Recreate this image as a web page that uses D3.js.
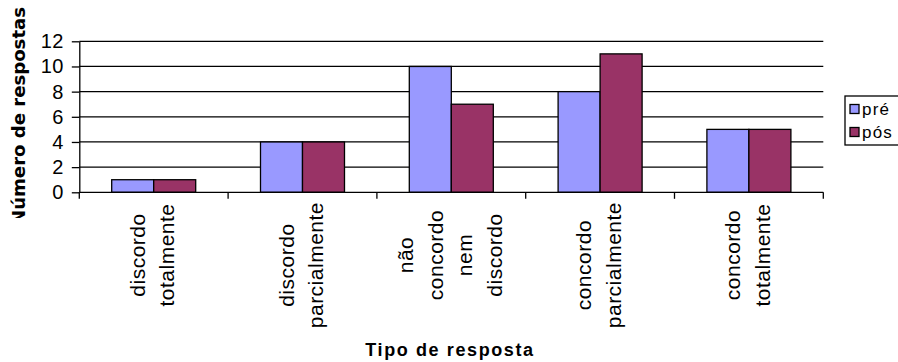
<!DOCTYPE html>
<html>
<head>
<meta charset="utf-8">
<script src="https://cdn.jsdelivr.net/npm/d3@7"></script>
<style>
  html, body { margin: 0; padding: 0; background: #fff; }
  svg { display: block; }
  text { font-family: "Liberation Sans", Arial, sans-serif; fill: #000; }
</style>
</head>
<body>
<svg id="chart" width="898" height="362"></svg>
<script>
// Response categories (one label line per array entry)
const categories = [
  ["discordo", "totalmente"],
  ["discordo", "parcialmente"],
  ["não", "concordo", "nem", "discordo"],
  ["concordo", "parcialmente"],
  ["concordo", "totalmente"]
];
const seriesNames = ["pré", "pós"];
const preValues = [1, 4, 10, 8, 5];
const posValues = [1, 4, 7, 11, 5];
const yTicks = [0, 2, 4, 6, 8, 10, 12];
const colors = ["#9999FF", "#993366"];

const svg = d3.select("#chart");
const catKeys = categories.map(c => c.join(" "));

const x0 = d3.scaleBand().domain(catKeys).range([79.3, 823.3]).padding(0);
const x1 = d3.scaleBand().domain(seriesNames)
  .range([32.4, x0.bandwidth() - 32.4]).padding(0);
const y = d3.scaleLinear().domain([0, 12]).range([192.3, 41.3]);

// Horizontal gridlines across the plot
svg.append("g").selectAll("line").data(yTicks.filter(d => d > 0)).join("line")
  .attr("x1", 79.3).attr("x2", 823.3)
  .attr("y1", d => y(d)).attr("y2", d => y(d))
  .attr("stroke", "#000").attr("stroke-width", 1.3);

// Bars
const rows = catKeys.map((k, i) => ({ key: k, vals: [preValues[i], posValues[i]] }));
const groups = svg.append("g").selectAll("g").data(rows).join("g")
  .attr("transform", d => `translate(${x0(d.key)},0)`);
groups.selectAll("rect").data(d => d.vals.map((v, j) => ({ s: seriesNames[j], v, j })))
  .join("rect")
  .attr("x", d => x1(d.s))
  .attr("width", x1.bandwidth())
  .attr("y", d => y(d.v))
  .attr("height", d => y(0) - y(d.v))
  .attr("fill", d => colors[d.j])
  .attr("stroke", "#000").attr("stroke-width", 1.3);

// Y axis
const yAxis = d3.axisLeft(y).tickValues(yTicks).tickSize(7.5).tickPadding(8).tickSizeOuter(0);
const gy = svg.append("g").attr("transform", "translate(79.3,0)").call(yAxis);
gy.select(".domain").attr("stroke", "#000").attr("stroke-width", 1.3);
gy.selectAll(".tick line").attr("stroke", "#000").attr("stroke-width", 1.3);
gy.selectAll(".tick text")
  .style("font-family", "'Liberation Sans', Arial, sans-serif")
  .style("font-size", "20px").style("letter-spacing", "0.4px").attr("fill", "#000");

// X axis baseline and category separators
svg.append("line").attr("x1", 79.3).attr("x2", 823.3)
  .attr("y1", y(0)).attr("y2", y(0)).attr("stroke", "#000").attr("stroke-width", 1.3);
const bounds = catKeys.map(k => x0(k)).concat([x0.range()[1]]);
svg.append("g").selectAll("line").data(bounds).join("line")
  .attr("x1", d => d).attr("x2", d => d)
  .attr("y1", y(0)).attr("y2", y(0) + 6.5)
  .attr("stroke", "#000").attr("stroke-width", 1.3);

// Rotated, multi-line category labels
const lineGap = 29.5;
categories.forEach((lines, i) => {
  const cx = x0(catKeys[i]) + x0.bandwidth() / 2;
  const g = svg.append("g");
  const texts = lines.map((t, j) => g.append("text")
    .attr("text-anchor", "middle")
    .style("font-size", "21px").style("letter-spacing", "0.5px")
    .text(t));
  const maxLen = d3.max(texts, t => t.node().getComputedTextLength());
  const cy = Math.max(255, 202 + maxLen / 2);
  texts.forEach((t, j) => {
    const bx = cx + 6 + (j - (lines.length - 1) / 2) * lineGap;
    t.attr("transform", `translate(${bx},${cy}) rotate(-90)`);
  });
});

// Axis titles
svg.append("text")
  .attr("x", 450).attr("y", 356)
  .attr("text-anchor", "middle")
  .style("font-weight", "bold").style("font-size", "18px").style("letter-spacing", "1.6px")
  .text("Tipo de resposta");

svg.append("defs").append("clipPath").attr("id", "ytclip")
  .append("rect").attr("x", 0).attr("y", 0).attr("width", 40).attr("height", 218);
svg.append("g").attr("clip-path", "url(#ytclip)")
  .append("text")
  .attr("transform", "translate(24.5,225) rotate(-90)")
  .attr("text-anchor", "start")
  .style("font-family", "'DejaVu Sans', Verdana, sans-serif")
  .style("font-weight", "bold").style("font-size", "17px")
  .attr("textLength", 218).attr("lengthAdjust", "spacingAndGlyphs")
  .text("Número de respostas");

// Legend (runs past the right edge)
const lg = svg.append("g");
lg.append("rect").attr("x", 845).attr("y", 96).attr("width", 80).attr("height", 49)
  .attr("fill", "#fff").attr("stroke", "#000").attr("stroke-width", 1.3);
seriesNames.forEach((s, j) => {
  const cyL = 109 + j * 23;
  lg.append("rect").attr("x", 850).attr("y", cyL - 4.5).attr("width", 9).attr("height", 9)
    .attr("fill", colors[j]).attr("stroke", "#000").attr("stroke-width", 1.3);
  lg.append("text").attr("x", 862).attr("y", cyL + 6)
    .style("font-size", "17px").style("letter-spacing", "1.2px")
    .text(s);
});
</script>
</body>
</html>
